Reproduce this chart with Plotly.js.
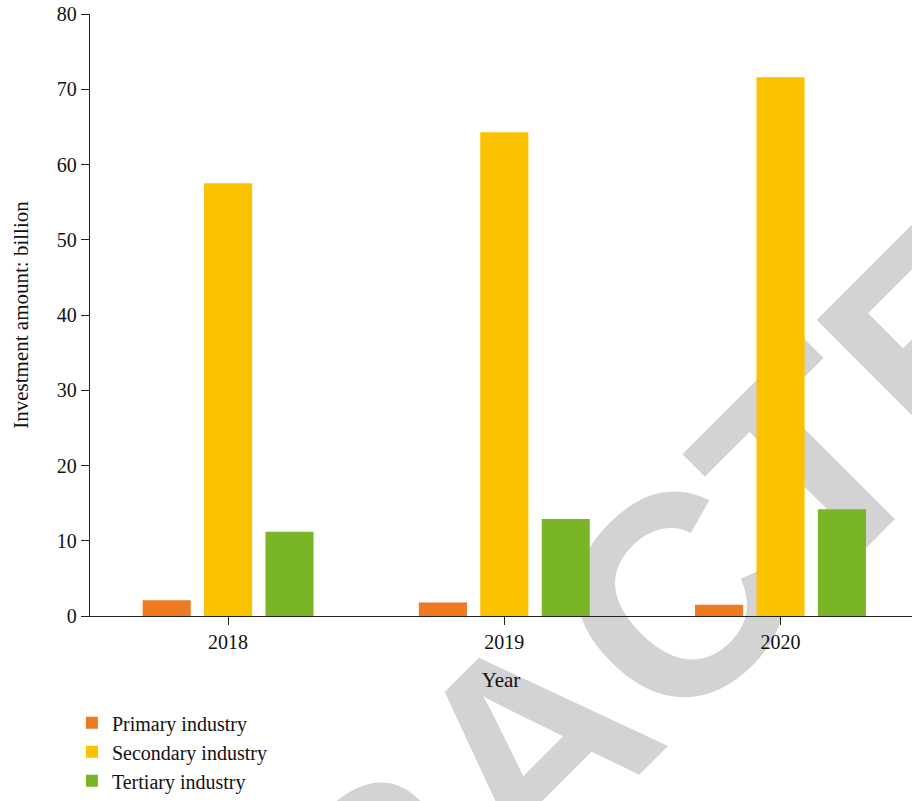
<!DOCTYPE html>
<html>
<head>
<meta charset="utf-8">
<script src="https://cdn.plot.ly/plotly-3.0.1.min.js"></script>
<style>
  html, body { margin: 0; padding: 0; background: #ffffff; }
  #wrap { position: relative; width: 912px; height: 801px; overflow: hidden; }
  #wm, #chart { position: absolute; left: 0; top: 0; width: 912px; height: 801px; }
</style>
</head>
<body>
<div id="wrap">
  <div id="wm"></div>
  <div id="chart"></div>
</div>
<script>
// ---- data ----
const years = ["2018", "2019", "2020"];
const primaryIndustry = [2.1, 1.8, 1.5];
const secondaryIndustry = [57.5, 64.3, 71.6];
const tertiaryIndustry = [11.2, 12.9, 14.2];
const seriesNames = ["Primary industry", "Secondary industry", "Tertiary industry"];
const yTickValues = [0, 10, 20, 30, 40, 50, 60, 70, 80];
const watermarkText = "RETRACTED";

const serif = "'Liberation Serif', 'Times New Roman', serif";
const colors = ["#EE7A22", "#FBC200", "#7AB427"];

// ---- watermark layer (behind the chart) ----
Plotly.newPlot("wm", [], {
  width: 912, height: 801,
  margin: {l: 0, r: 0, t: 0, b: 0},
  paper_bgcolor: "#ffffff", plot_bgcolor: "#ffffff",
  xaxis: {visible: false, range: [0, 1]},
  yaxis: {visible: false, range: [0, 1]},
  showlegend: false,
  annotations: [{
    text: watermarkText,
    xref: "paper", yref: "paper",
    x: 530 / 912, y: 1 - 744 / 801,
    xanchor: "center", yanchor: "middle",
    textangle: -45,
    showarrow: false,
    font: {family: "'Liberation Sans', Arial, sans-serif", size: 285, color: "#D3D3D3", weight: "bold"}
  }]
}, {staticPlot: true});

// ---- main chart ----
const traces = [primaryIndustry, secondaryIndustry, tertiaryIndustry].map((vals, i) => ({
  type: "bar",
  name: seriesNames[i],
  x: years,
  y: vals,
  marker: {color: colors[i]}
}));

const layout = {
  width: 912, height: 801,
  margin: {l: 90, r: 0, t: 14, b: 185},
  paper_bgcolor: "rgba(0,0,0,0)",
  plot_bgcolor: "rgba(0,0,0,0)",
  barmode: "group",
  bargap: 0.333,
  bargroupgap: 0.217,
  font: {family: serif, size: 20, color: "#111111"},
  xaxis: {
    type: "category",
    range: [-0.5, 2.476],
    showline: true, linecolor: "#222222", linewidth: 1.3,
    ticks: "outside", ticklen: 8, tickcolor: "#222222", tickwidth: 1.3,
    showgrid: false, zeroline: false,
    tickfont: {family: serif, size: 20, color: "#111111"},
    title: {text: "Year", font: {family: serif, size: 21, color: "#111111"}, standoff: 20}
  },
  yaxis: {
    range: [0, 80],
    tickvals: yTickValues,
    showline: true, linecolor: "#222222", linewidth: 1.3,
    ticks: "outside", ticklen: 8, tickcolor: "#222222", tickwidth: 1.3,
    showgrid: false, zeroline: false,
    tickfont: {family: serif, size: 20, color: "#111111"},
    title: {text: "Investment amount: billion", font: {family: serif, size: 21, color: "#111111"}, standoff: 22}
  },
  showlegend: true,
  legend: {
    orientation: "v",
    x: -0.022, xanchor: "left",
    y: -0.306, yanchor: "bottom",
    font: {family: serif, size: 20, color: "#111111"},
    bgcolor: "rgba(0,0,0,0)",
    itemclick: false, itemdoubleclick: false
  }
};

Plotly.newPlot("chart", traces, layout, {displayModeBar: false});
</script>
</body>
</html>
